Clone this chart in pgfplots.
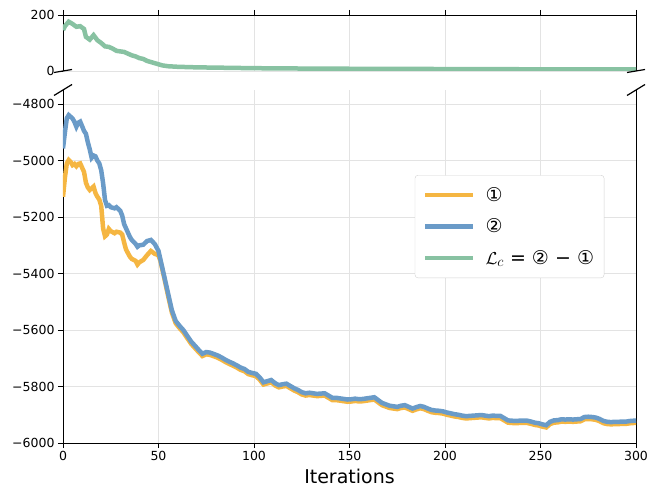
\documentclass[border=0pt]{standalone}
\usepackage{pgfplots}
\pgfplotsset{compat=1.18}
\usepackage{fontspec}
\setmainfont{DejaVu Sans}
\definecolor{cone}{RGB}{245,182,66}
\definecolor{ctwo}{RGB}{106,155,200}
\definecolor{cdiff}{RGB}{136,194,162}

% series 1 (orange) and 2 (blue)
\pgfplotstableread{
x y
0 -5128
1 -5060
2 -5010
3 -4998
4 -5005
5 -5016
6 -5012
7 -5020
8 -5012
9 -5010
10 -5025
11 -5040
12 -5078
13 -5095
14 -5104
15 -5098
16 -5092
17 -5115
18 -5128
19 -5138
20 -5160
21 -5240
22 -5268
23 -5262
24 -5242
25 -5250
27 -5257
28 -5252
30 -5255
31 -5262
32 -5290
33 -5315
35 -5340
36 -5348
38 -5355
39 -5368
40 -5360
42 -5352
44 -5335
46 -5320
48 -5330
50 -5335
51 -5355
53 -5415
55 -5478
57 -5538
59 -5576
61 -5593
63 -5608
65 -5628
67 -5648
69 -5663
71 -5678
73 -5692
75 -5686
77 -5688
79 -5693
81 -5698
83 -5705
85 -5713
87 -5720
89 -5726
91 -5733
93 -5741
95 -5746
97 -5756
99 -5760
101 -5763
103 -5776
105 -5793
107 -5789
109 -5785
111 -5796
113 -5803
115 -5800
117 -5798
119 -5806
121 -5814
123 -5820
125 -5828
127 -5832
129 -5830
131 -5832
133 -5834
135 -5833
137 -5832
139 -5840
141 -5848
143 -5848
145 -5850
147 -5852
149 -5854
151 -5853
153 -5851
155 -5853
157 -5852
159 -5850
161 -5848
163 -5846
165 -5856
167 -5866
169 -5871
171 -5876
173 -5878
175 -5880
177 -5876
179 -5874
181 -5880
183 -5886
185 -5881
187 -5877
189 -5880
191 -5886
193 -5891
195 -5893
197 -5894
199 -5896
201 -5900
203 -5903
205 -5906
207 -5908
209 -5911
211 -5913
213 -5912
215 -5911
217 -5910
219 -5909
221 -5911
223 -5913
225 -5911
227 -5912
229 -5912
231 -5920
233 -5928
235 -5929
237 -5930
239 -5929
241 -5929
243 -5929
245 -5932
247 -5936
249 -5938
251 -5942
253 -5945
255 -5933
257 -5928
259 -5927
261 -5924
263 -5925
265 -5924
267 -5925
269 -5924
271 -5923
273 -5916
275 -5915
277 -5916
279 -5918
281 -5923
283 -5930
285 -5933
287 -5934
289 -5933
291 -5933
293 -5932
295 -5932
297 -5930
299 -5929
300 -5929
}\one

\pgfplotstableread{
x y
0 -4957
1 -4900
2 -4850
3 -4839
4 -4845
5 -4851
6 -4863
7 -4880
8 -4866
9 -4862
10 -4878
11 -4895
12 -4905
13 -4935
14 -4960
15 -4990
16 -4982
17 -4985
18 -5000
19 -5010
20 -5034
21 -5080
22 -5140
23 -5160
24 -5158
25 -5165
27 -5169
28 -5165
30 -5178
31 -5195
32 -5225
33 -5240
35 -5270
36 -5281
38 -5295
39 -5305
40 -5300
42 -5298
44 -5285
46 -5281
48 -5295
50 -5320
51 -5350
53 -5410
55 -5470
57 -5530
59 -5568
61 -5585
63 -5600
65 -5620
67 -5640
69 -5655
71 -5670
73 -5684
75 -5678
77 -5680
79 -5685
81 -5690
83 -5697
85 -5705
87 -5712
89 -5718
91 -5725
93 -5733
95 -5738
97 -5748
99 -5752
101 -5755
103 -5768
105 -5785
107 -5781
109 -5777
111 -5788
113 -5795
115 -5792
117 -5790
119 -5798
121 -5806
123 -5812
125 -5820
127 -5824
129 -5822
131 -5824
133 -5826
135 -5825
137 -5824
139 -5832
141 -5840
143 -5840
145 -5842
147 -5844
149 -5846
151 -5845
153 -5843
155 -5845
157 -5844
159 -5842
161 -5840
163 -5838
165 -5848
167 -5858
169 -5863
171 -5868
173 -5870
175 -5872
177 -5868
179 -5866
181 -5872
183 -5878
185 -5873
187 -5869
189 -5872
191 -5878
193 -5883
195 -5885
197 -5886
199 -5888
201 -5892
203 -5895
205 -5898
207 -5900
209 -5903
211 -5905
213 -5904
215 -5903
217 -5902
219 -5901
221 -5903
223 -5905
225 -5903
227 -5904
229 -5904
231 -5912
233 -5920
235 -5921
237 -5922
239 -5921
241 -5921
243 -5921
245 -5924
247 -5928
249 -5930
251 -5934
253 -5937
255 -5925
257 -5920
259 -5919
261 -5916
263 -5917
265 -5916
267 -5917
269 -5916
271 -5915
273 -5908
275 -5907
277 -5908
279 -5910
281 -5915
283 -5922
285 -5925
287 -5926
289 -5925
291 -5925
293 -5924
295 -5924
297 -5922
299 -5921
300 -5921
}\two

\pgfplotstableread{
x y
0 146
1 160
3 176
5 168
7 158
9 160
11 150
12 122
14 112
16 128
18 110
20 100
22 88
24 86
26 80
28 72
30 70
32 68
34 62
36 56
38 52
40 46
42 43
44 36
46 32
48 28
50 24
52 20
55 17
60 15
65 14
70 13
80 12
90 11
100 10
120 9
150 8
200 7
250 6
300 6
}\diff

\begin{document}
\begin{tikzpicture}
\pgfplotsset{
  brk/.style={
    scale only axis, width=573pt,
    xmin=0, xmax=300,
    xtick={0,50,...,300},
    tick align=outside, major tick length=5pt,
    grid=major, grid style={gray!22, line width=0.7pt},
    axis line style={line width=0.9pt},
    tick style={line width=0.9pt, black},
    ytick pos=left,
    xticklabel style={font=\fontsize{12.5}{14}\selectfont},
    yticklabel style={font=\fontsize{12.5}{14}\selectfont},
  },
}
\begin{axis}[brk, name=bot,
  height=353pt,
  ymin=-6000, ymax=-4750,
  axis x line*=bottom,
  ytick={-6000,-5800,-5600,-5400,-5200,-5000,-4800},
  yticklabels={−6000,−5800,−5600,−5400,−5200,−5000,−4800},
  xticklabels={0,50,100,150,200,250,300},
  xlabel={Iterations},
  xlabel style={font=\fontsize{19}{22}\selectfont, yshift=-1pt},
  legend style={at={(0.614,0.759)}, anchor=north west,
    draw=gray!35, rounded corners=3pt,
    font=\fontsize{19}{23}\selectfont,
    row sep=12pt, inner xsep=8pt, inner ysep=10pt},
  legend cell align=left,
  legend image code/.code={\draw[#1, line width=4.5pt] (0,0) -- (48pt,0); \path (56pt,0);},
]
\addplot[cone, line width=4.5pt] table {\one};
\addlegendentry{①}
\addplot[ctwo, line width=4.5pt] table {\two};
\addlegendentry{②}
\addlegendimage{cdiff, line width=4.5pt}
\addlegendentry{$\mathcal{L}_c$ = ② − ①}
\end{axis}

\begin{axis}[brk, name=top,
  at={(bot.north west)}, anchor=south west, yshift=19pt,
  height=56pt,
  ymin=0, ymax=200,
  axis x line*=top,
  ytick={0,200}, yticklabels={0,200},
  xticklabels={},
]
\addplot[cdiff, line width=4.5pt] table {\diff};
\end{axis}

\draw[line width=1.2pt] ([xshift=-9pt,yshift=-1.5pt]top.south west) -- ([xshift=9pt,yshift=1.5pt]top.south west);
\draw[line width=1.2pt] ([xshift=-9pt,yshift=-1.5pt]top.south east) -- ([xshift=9pt,yshift=1.5pt]top.south east);
\draw[line width=1.2pt] ([xshift=-9pt,yshift=-5.5pt]bot.north west) -- ([xshift=9pt,yshift=5.5pt]bot.north west);
\draw[line width=1.2pt] ([xshift=-9pt,yshift=-5.5pt]bot.north east) -- ([xshift=9pt,yshift=5.5pt]bot.north east);

\pgfresetboundingbox
\path ([xshift=-63pt,yshift=-44pt]bot.south west) rectangle ([xshift=584pt,yshift=443pt]bot.south west);
\end{tikzpicture}
\end{document}
